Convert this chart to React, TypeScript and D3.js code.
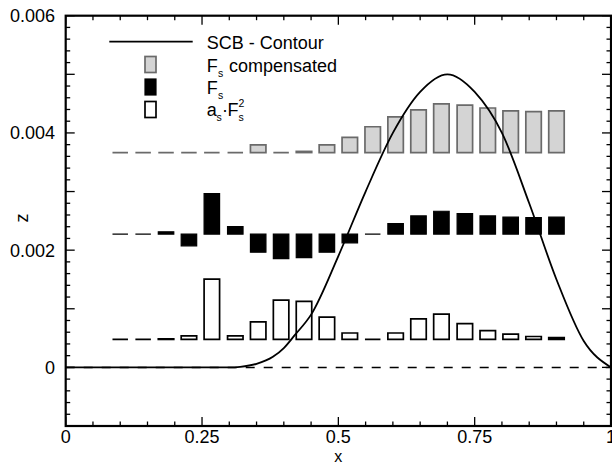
import React from "react";
import * as d3 from "d3";

// ---- data ----
const barX = [0.1, 0.142, 0.184, 0.226, 0.268, 0.311, 0.353, 0.395, 0.437, 0.479, 0.521, 0.563, 0.605, 0.647, 0.689, 0.732, 0.774, 0.816, 0.858, 0.9];
const fsCompensated = [0, 0, 0, 0, 0, 0, 0.00013, 0, 0.00002, 0.00013, 0.00026, 0.00044, 0.00061, 0.00073, 0.00083, 0.00081, 0.00076, 0.00071, 0.0007, 0.00071];
const fs = [0, 0, 0.00004, -0.0002, 0.00069, 0.00013, -0.00031, -0.00042, -0.0004, -0.00031, -0.00015, 0, 0.00018, 0.00031, 0.00039, 0.00035, 0.00031, 0.00029, 0.00028, 0.00029];
const asFs2 = [0, 0, 0.00001, 0.00006, 0.00103, 0.00006, 0.0003, 0.00067, 0.00065, 0.00038, 0.00011, 0, 0.00011, 0.00035, 0.00043, 0.00027, 0.00015, 0.00009, 0.00005, 0.00003];
const baseCompensated = 0.003665;
const baseFs = 0.002274;
const baseAsFs2 = 0.000477;

const contourX = [0, 0.3, 0.32, 0.35, 0.38, 0.4, 0.42, 0.45, 0.5, 0.55, 0.6, 0.65, 0.7, 0.75, 0.8, 0.85, 0.9, 0.95, 1.0];
const contourZ = [0, 0, 0.00001, 0.00006, 0.00018, 0.00033, 0.00055, 0.0009, 0.0019, 0.003, 0.004, 0.0047, 0.005, 0.0047, 0.004, 0.0028, 0.0015, 0.00045, 0];

const xTickValues = [0, 0.25, 0.5, 0.75, 1];
const xTickLabels = ["0", "0.25", "0.5", "0.75", "1"];
const yTickValues = [0, 0.002, 0.004, 0.006];
const yTickLabels = ["0", "0.002", "0.004", "0.006"];

const W = 612, H = 467;
const FONT = "'Liberation Sans', Arial, Helvetica, sans-serif";
const FS = 18;

export default function App() {
  const x = d3.scaleLinear().domain([0, 1]).range([65.7, 611]);
  const y = d3.scaleLinear().domain([-0.001, 0.006]).range([426, 15.7]);
  const halfW = 0.0142;

  const barPath = (xc: number, base: number, v: number) => {
    const x0 = x(xc - halfW), x1 = x(xc + halfW);
    const y0 = y(base), y1 = y(base + v);
    return `M${x0},${y0}H${x1}V${y1}H${x0}Z`;
  };

  const line = d3.line<number>()
    .x((_, i) => x(contourX[i]))
    .y((d) => y(d))
    .curve(d3.curveMonotoneX);

  const xMinor = x.ticks(20);
  const yMinor = y.ticks(35);
  const isMajorX = (v: number) => Math.abs(v * 4 - Math.round(v * 4)) < 1e-6;
  const isMajorY = (v: number) => Math.abs(v * 1000 - Math.round(v * 1000)) < 1e-6;
  const [xl, xr] = x.range();
  const [yb, yt] = y.range();

  return (
    <svg width={W} height={H} style={{ position: "absolute", left: 0, top: 0, background: "#fff" }} fontFamily={FONT}>
      {/* zero line */}
      <line x1={x(0)} x2={x(1)} y1={y(0)} y2={y(0)} stroke="#000" strokeWidth={1.5} strokeDasharray="9,9" />

      {/* bars */}
      {barX.map((bx, i) => (
        <path key={"c" + i} d={barPath(bx, baseCompensated, fsCompensated[i])} fill="#d4d4d4" stroke="#6a6a6a" strokeWidth={1.7} />
      ))}
      {barX.map((bx, i) => (
        <path key={"f" + i} d={barPath(bx, baseFs, fs[i])} fill="#000" stroke="#000" strokeWidth={1.2} />
      ))}
      {barX.map((bx, i) => (
        <path key={"a" + i} d={barPath(bx, baseAsFs2, asFs2[i])} fill="#fff" stroke="#000" strokeWidth={1.7} />
      ))}

      {/* contour */}
      <path d={line(contourZ) || ""} fill="none" stroke="#000" strokeWidth={1.8} />

      {/* ticks */}
      {xMinor.map((v, i) => {
        const L = isMajorX(v) ? 9 : 4.5;
        return (
          <g key={"xt" + i} stroke="#000" strokeWidth={1.3}>
            <line x1={x(v)} x2={x(v)} y1={yb} y2={yb - L} />
            <line x1={x(v)} x2={x(v)} y1={yt} y2={yt + L} />
          </g>
        );
      })}
      {yMinor.map((v, i) => {
        const L = isMajorY(v) ? 9 : 4.5;
        return (
          <g key={"yt" + i} stroke="#000" strokeWidth={1.3}>
            <line x1={xl} x2={xl + L} y1={y(v)} y2={y(v)} />
            <line x1={xr} x2={xr - L} y1={y(v)} y2={y(v)} />
          </g>
        );
      })}
      {/* frame */}
      <rect x={xl} y={yt} width={xr - xl} height={yb - yt} fill="none" stroke="#000" strokeWidth={2.2} />

      {/* tick labels */}
      {xTickValues.map((v, i) => (
        <text key={"xl" + i} x={x(v)} y={443} textAnchor="middle" fontSize={FS}>{xTickLabels[i]}</text>
      ))}
      {yTickValues.map((v, i) => (
        <text key={"yl" + i} x={55} y={y(v) + 6.5} textAnchor="end" fontSize={FS}>{yTickLabels[i]}</text>
      ))}
      <text x={x(0.5)} y={462} textAnchor="middle" fontSize={16}>x</text>
      <text transform={`translate(28,${218}) rotate(-90)`} textAnchor="middle" fontSize={FS}>z</text>

      {/* legend */}
      <line x1={109.3} x2={192.7} y1={41.7} y2={41.7} stroke="#000" strokeWidth={1.8} />
      <text x={206.7} y={48.5} fontSize={FS}>SCB - Contour</text>

      <rect x={145} y={56.5} width={11} height={16} fill="#d4d4d4" stroke="#6a6a6a" strokeWidth={1.7} />
      <text x={206.7} y={71.5} fontSize={FS}>F</text>
      <text x={218} y={77} fontSize={10.5}>s</text>
      <text x={229} y={71.5} fontSize={FS}>compensated</text>

      <rect x={145} y={79} width={11} height={16} fill="#000" stroke="#000" strokeWidth={1.2} />
      <text x={206.7} y={93.5} fontSize={FS}>F</text>
      <text x={218} y={99} fontSize={10.5}>s</text>

      <rect x={145} y={101.5} width={11} height={16} fill="#fff" stroke="#000" strokeWidth={1.7} />
      <text x={206.7} y={115.5} fontSize={FS}>a</text>
      <text x={216.5} y={121} fontSize={10.5}>s</text>
      <text x={222} y={115.5} fontSize={FS}>·</text>
      <text x={227.5} y={115.5} fontSize={FS}>F</text>
      <text x={238.5} y={121} fontSize={10.5}>s</text>
      <text x={238.5} y={107} fontSize={10.5}>2</text>
    </svg>
  );
}
